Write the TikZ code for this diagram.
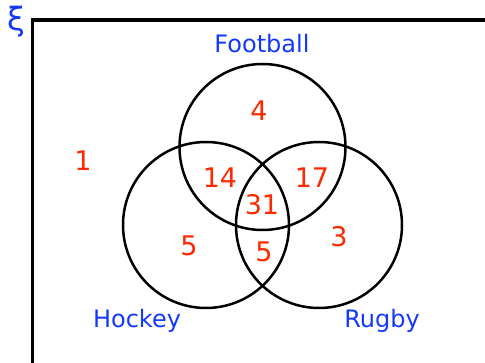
\documentclass[tikz,border=0pt]{standalone}
\usepackage{fontspec}
\setmainfont{DejaVu Sans}
\definecolor{setblue}{RGB}{20,55,255}
\definecolor{numred}{RGB}{255,40,0}

\begin{document}
\begin{tikzpicture}[
    x=1pt, y=-1pt, % pixel-like units, y pointing down
    set label/.style={text=setblue, font=\fontsize{24}{26}\selectfont},
    region/.style={text=numred, font=\fontsize{27}{29}\selectfont},
    set ring/.style={draw=black, line width=2.5pt}
]

    % --- 1. FRAME AND SIZES ---
    \useasboundingbox (0,0) rectangle (485,363);
    \def\r{83}
    \def\cx{262.5}

    % Universal set box (runs off the page at right and bottom)
    \begin{scope}
        \clip (0,0) rectangle (485,363);
        \draw[line width=3.2pt] (32.5,20) rectangle (520,400);
    \end{scope}
    \node[set label, font=\fontsize{32}{34}\selectfont] (xi) at (16,22) {ξ};

    % --- 2. THE THREE SETS ---
    \draw[set ring] (\cx,147) circle (\r);      % Football
    \draw[set ring] (\cx-56.5,225) circle (\r); % Hockey
    \draw[set ring] (\cx+56.5,225) circle (\r); % Rugby

    \node[set label] (football) at (262,44) {Football};
    \node[set label] (hockey) at (137,321) {Hockey};
    \node[set label] (rugby) at (382,321) {Rugby};

    % --- 3. REGION COUNTS ---
    \node[region] (outside) at (83,161) {1};
    \node[region] (fonly) at (259,111) {4};
    \node[region] (fh) at (220,178) {14};
    \node[region] (fr) at (312,178) {17};
    \node[region] (all) at (262,205) {31};
    \node[region] (honly) at (189,246) {5};
    \node[region] (hr) at (264,252) {5};
    \node[region] (ronly) at (339,237) {3};

\end{tikzpicture}
\end{document}
